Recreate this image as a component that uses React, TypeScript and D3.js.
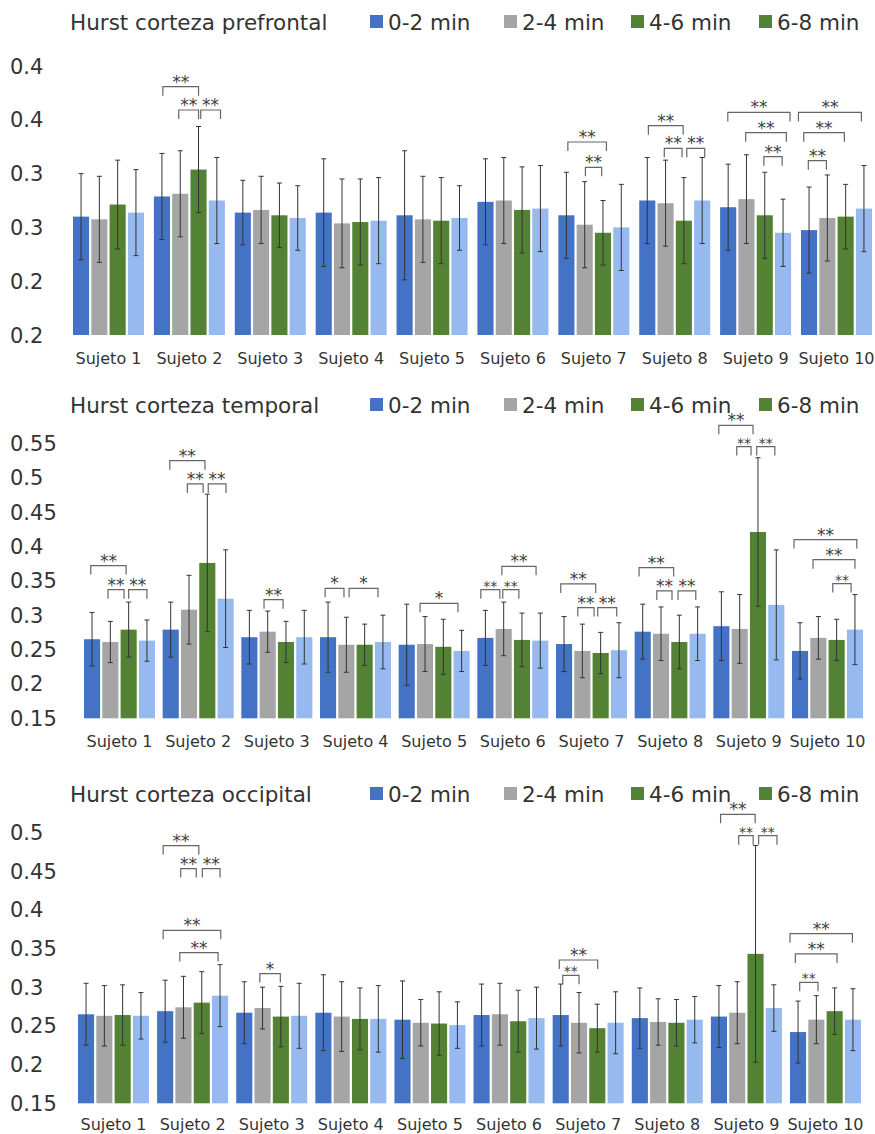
import * as d3 from "d3";

const subjects = [
  "Sujeto 1", "Sujeto 2", "Sujeto 3", "Sujeto 4", "Sujeto 5",
  "Sujeto 6", "Sujeto 7", "Sujeto 8", "Sujeto 9", "Sujeto 10",
];
const seriesNames = ["0-2 min", "2-4 min", "4-6 min", "6-8 min"];
const barColors = ["#4472C4", "#A5A5A5", "#548235", "#96B9EF"];
const legendColors = ["#4472C4", "#A5A5A5", "#548235", "#548235"];

// one row per subject: [0-2, 2-4, 4-6, 6-8]
const prefrontalMean = [
  [0.288, 0.286, 0.297, 0.291],
  [0.303, 0.305, 0.323, 0.300],
  [0.291, 0.293, 0.289, 0.287],
  [0.291, 0.283, 0.284, 0.285],
  [0.289, 0.286, 0.285, 0.287],
  [0.299, 0.300, 0.293, 0.294],
  [0.289, 0.282, 0.276, 0.280],
  [0.300, 0.298, 0.285, 0.300],
  [0.295, 0.301, 0.289, 0.276],
  [0.278, 0.287, 0.288, 0.294],
];
const prefrontalErr = [
  [0.032, 0.032, 0.033, 0.032],
  [0.032, 0.032, 0.032, 0.032],
  [0.024, 0.025, 0.024, 0.024],
  [0.040, 0.033, 0.032, 0.032],
  [0.048, 0.032, 0.032, 0.024],
  [0.032, 0.032, 0.032, 0.032],
  [0.032, 0.032, 0.024, 0.032],
  [0.032, 0.032, 0.032, 0.032],
  [0.032, 0.033, 0.032, 0.025],
  [0.032, 0.032, 0.024, 0.032],
];
const prefrontalTicks = [0.2, 0.24, 0.28, 0.32, 0.36, 0.4];
const prefrontalTickLabels = ["0.2", "0.2", "0.3", "0.3", "0.4", "0.4"];

const temporalMean = [
  [0.265, 0.261, 0.279, 0.263],
  [0.279, 0.308, 0.376, 0.324],
  [0.268, 0.276, 0.261, 0.268],
  [0.268, 0.257, 0.257, 0.261],
  [0.257, 0.258, 0.254, 0.248],
  [0.267, 0.280, 0.264, 0.263],
  [0.258, 0.248, 0.245, 0.249],
  [0.276, 0.273, 0.261, 0.273],
  [0.284, 0.280, 0.421, 0.315],
  [0.248, 0.267, 0.264, 0.279],
];
const temporalErr = [
  [0.039, 0.030, 0.040, 0.030],
  [0.040, 0.050, 0.100, 0.071],
  [0.039, 0.030, 0.030, 0.039],
  [0.051, 0.040, 0.030, 0.039],
  [0.059, 0.040, 0.040, 0.030],
  [0.040, 0.039, 0.039, 0.040],
  [0.040, 0.039, 0.030, 0.040],
  [0.040, 0.039, 0.039, 0.039],
  [0.050, 0.050, 0.108, 0.080],
  [0.041, 0.031, 0.030, 0.051],
];
const temporalTicks = [0.15, 0.2, 0.25, 0.3, 0.35, 0.4, 0.45, 0.5, 0.55];
const temporalTickLabels = ["0.15", "0.2", "0.25", "0.3", "0.35", "0.4", "0.45", "0.5", "0.55"];

const occipitalMean = [
  [0.265, 0.263, 0.264, 0.263],
  [0.269, 0.274, 0.280, 0.289],
  [0.267, 0.273, 0.262, 0.263],
  [0.267, 0.262, 0.259, 0.259],
  [0.258, 0.254, 0.253, 0.251],
  [0.264, 0.265, 0.256, 0.260],
  [0.264, 0.254, 0.247, 0.254],
  [0.260, 0.255, 0.254, 0.258],
  [0.262, 0.267, 0.343, 0.273],
  [0.242, 0.258, 0.269, 0.258],
];
const occipitalErr = [
  [0.040, 0.039, 0.039, 0.030],
  [0.040, 0.040, 0.040, 0.040],
  [0.040, 0.027, 0.039, 0.042],
  [0.049, 0.045, 0.040, 0.043],
  [0.050, 0.030, 0.041, 0.030],
  [0.040, 0.040, 0.040, 0.040],
  [0.040, 0.039, 0.031, 0.040],
  [0.039, 0.030, 0.030, 0.030],
  [0.040, 0.040, 0.140, 0.030],
  [0.040, 0.031, 0.030, 0.040],
];
const occipitalTicks = [0.15, 0.2, 0.25, 0.3, 0.35, 0.4, 0.45, 0.5];
const occipitalTickLabels = ["0.15", "0.2", "0.25", "0.3", "0.35", "0.4", "0.45", "0.5"];

// significance brackets: [subject, from bar pos, to bar pos, level, label, small]
type Sig = [number, number, number, number, string, number?];
const prefrontalSig: Sig[] = [
  [1, 0.05, 2.0, 0.3846, "**"],
  [1, 0.92, 2.0, 0.3673, "**"],
  [1, 2.12, 3.2, 0.3673, "**"],
  [6, 0.08, 2.19, 0.3435, "**"],
  [6, 1.04, 1.93, 0.3247, "**"],
  [7, 0.06, 1.96, 0.3556, "**"],
  [7, 0.93, 1.9, 0.3388, "**"],
  [7, 2.16, 3.14, 0.3388, "**"],
  [8, -0.02, 3.38, 0.3655, "**"],
  [8, 0.96, 3.18, 0.3504, "**"],
  [8, 1.95, 2.95, 0.3326, "**"],
  [9, -0.58, 2.86, 0.3655, "**"],
  [9, -0.29, 1.93, 0.3504, "**"],
  [9, -0.04, 0.95, 0.3296, "**"],
];
const temporalSig: Sig[] = [
  [0, -0.07, 1.86, 0.3721, "**"],
  [0, 0.87, 1.75, 0.3371, "**"],
  [0, 2.0, 3.0, 0.3371, "**"],
  [1, -0.05, 1.87, 0.5248, "**"],
  [1, 0.91, 1.77, 0.4909, "**"],
  [1, 2.05, 3.02, 0.4909, "**"],
  [2, 0.8, 1.84, 0.3226, "**"],
  [3, -0.16, 0.87, 0.3391, "*"],
  [3, 1.15, 2.73, 0.3391, "*"],
  [4, 0.73, 2.8, 0.3173, "*"],
  [5, -0.25, 0.79, 0.3371, "**", 1],
  [5, 0.95, 1.83, 0.3371, "**", 1],
  [5, 0.9, 2.77, 0.3711, "**"],
  [6, -0.18, 1.73, 0.3454, "**"],
  [6, 0.75, 1.64, 0.311, "**"],
  [6, 1.84, 2.88, 0.311, "**"],
  [7, -0.2, 1.69, 0.3692, "**"],
  [7, 0.77, 1.6, 0.3353, "**"],
  [7, 1.93, 2.9, 0.3353, "**"],
  [8, -0.14, 1.73, 0.5762, "**"],
  [8, 0.84, 1.62, 0.5452, "**", 1],
  [8, 1.93, 2.92, 0.5452, "**", 1],
  [9, -0.33, 3.1, 0.4099, "**"],
  [9, 0.71, 3.0, 0.3808, "**"],
  [9, 1.79, 2.79, 0.3459, "**", 1],
];
const occipitalSig: Sig[] = [
  [1, -0.11, 1.84, 0.4828, "**"],
  [1, 0.85, 1.7, 0.4531, "**"],
  [1, 2.03, 3.0, 0.4531, "**"],
  [1, -0.11, 3.04, 0.3734, "**"],
  [1, 0.8, 2.89, 0.3446, "**"],
  [2, 0.85, 1.97, 0.3175, "*"],
  [6, -0.08, 2.02, 0.3351, "**"],
  [6, 0.11, 1.0, 0.3153, "**", 1],
  [8, 0.09, 1.98, 0.5232, "**"],
  [8, 1.08, 1.87, 0.4957, "**", 1],
  [8, 2.17, 3.17, 0.4957, "**", 1],
  [9, -0.44, 2.97, 0.3691, "**"],
  [9, -0.15, 2.13, 0.3429, "**"],
  [9, 0.09, 1.09, 0.3063, "**", 1],
];

const FONT = '"DejaVu Sans", Verdana, sans-serif';
const W = 875;
const H = 1134;
const legendX = [370, 504, 631, 759];
const groupW = 71;

const panels = [
  {
    title: "Hurst corteza prefrontal", mean: prefrontalMean, err: prefrontalErr, sig: prefrontalSig,
    ticks: prefrontalTicks, tickLabels: prefrontalTickLabels,
    top: 0, bottom: 335, axisTop: 66, left: 73, right: 872, labelY: 364,
  },
  {
    title: "Hurst corteza temporal", mean: temporalMean, err: temporalErr, sig: temporalSig,
    ticks: temporalTicks, tickLabels: temporalTickLabels,
    top: 383, bottom: 718.3, axisTop: 443.3, left: 84, right: 863, labelY: 747,
  },
  {
    title: "Hurst corteza occipital", mean: occipitalMean, err: occipitalErr, sig: occipitalSig,
    ticks: occipitalTicks, tickLabels: occipitalTickLabels,
    top: 772, bottom: 1103.3, axisTop: 832.3, left: 78, right: 861, labelY: 1130,
  },
];

function Panel({ p }: { p: (typeof panels)[number] }) {
  const L = p.right - p.left;
  const n = subjects.length;
  const pad = (L - n * groupW) / (L - groupW);
  const x0 = d3.scaleBand().domain(subjects).range([p.left, p.right]).paddingInner(pad).paddingOuter(0);
  const x1 = d3.scaleBand().domain(seriesNames).range([0, x0.bandwidth()]).paddingInner(0.12);
  const y = d3
    .scaleLinear()
    .domain([p.ticks[0], p.ticks[p.ticks.length - 1]])
    .range([p.bottom, p.axisTop]);
  const bw = x1.bandwidth();
  const posX = (s: number, pos: number) => (x0(subjects[s]) as number) + x1.step() * pos + bw / 2;

  return (
    <g>
      <text x={70} y={p.top + 30} fontSize={21.5} fill="#333">
        {p.title}
      </text>
      {seriesNames.map((name, i) => (
        <g key={name}>
          <rect x={legendX[i]} y={p.top + 15} width={13} height={13} fill={legendColors[i]} />
          <text x={legendX[i] + 18} y={p.top + 30} fontSize={21.5} fill="#333">
            {name}
          </text>
        </g>
      ))}
      {p.ticks.map((t, i) => (
        <text key={i} x={10} y={y(t) + 7.5} fontSize={21} fill="#333">
          {p.tickLabels[i]}
        </text>
      ))}
      {subjects.map((s, si) => (
        <g key={s}>
          {seriesNames.map((name, k) => {
            const v = p.mean[si][k];
            const e = p.err[si][k];
            const bx = (x0(s) as number) + (x1(name) as number);
            const cx = bx + bw / 2;
            return (
              <g key={name}>
                <rect x={bx} y={y(v)} width={bw} height={p.bottom - y(v)} fill={barColors[k]} />
                <line x1={cx} x2={cx} y1={y(v + e)} y2={y(v - e)} stroke="#333" strokeWidth={1} />
                <line x1={cx - 2.5} x2={cx + 2.5} y1={y(v + e)} y2={y(v + e)} stroke="#333" strokeWidth={1} />
                <line x1={cx - 2.5} x2={cx + 2.5} y1={y(v - e)} y2={y(v - e)} stroke="#333" strokeWidth={1} />
              </g>
            );
          })}
          <text
            x={(x0(s) as number) + x0.bandwidth() / 2}
            y={p.labelY}
            fontSize={16}
            textAnchor="middle"
            fill="#333"
          >
            {s}
          </text>
        </g>
      ))}
      {p.sig.map((b, i) => {
        const [s, from, to, level, label, small] = b;
        const xa = posX(s, from);
        const xb = posX(s, to);
        const ly = y(level);
        return (
          <g key={i}>
            <path
              d={`M${xa},${ly + 9}V${ly}H${xb}V${ly + 9}`}
              fill="none"
              stroke="#666"
              strokeWidth={1.2}
            />
            <text
              x={(xa + xb) / 2}
              y={ly + 1}
              fontSize={small ? 14 : 17}
              textAnchor="middle"
              fill="#404040"
            >
              {label}
            </text>
          </g>
        );
      })}
    </g>
  );
}

export default function App() {
  return (
    <svg
      width={W}
      height={H}
      style={{ position: "absolute", left: 0, top: 0, background: "#fff" }}
      fontFamily={FONT}
    >
      {panels.map((p) => (
        <Panel key={p.title} p={p} />
      ))}
    </svg>
  );
}
